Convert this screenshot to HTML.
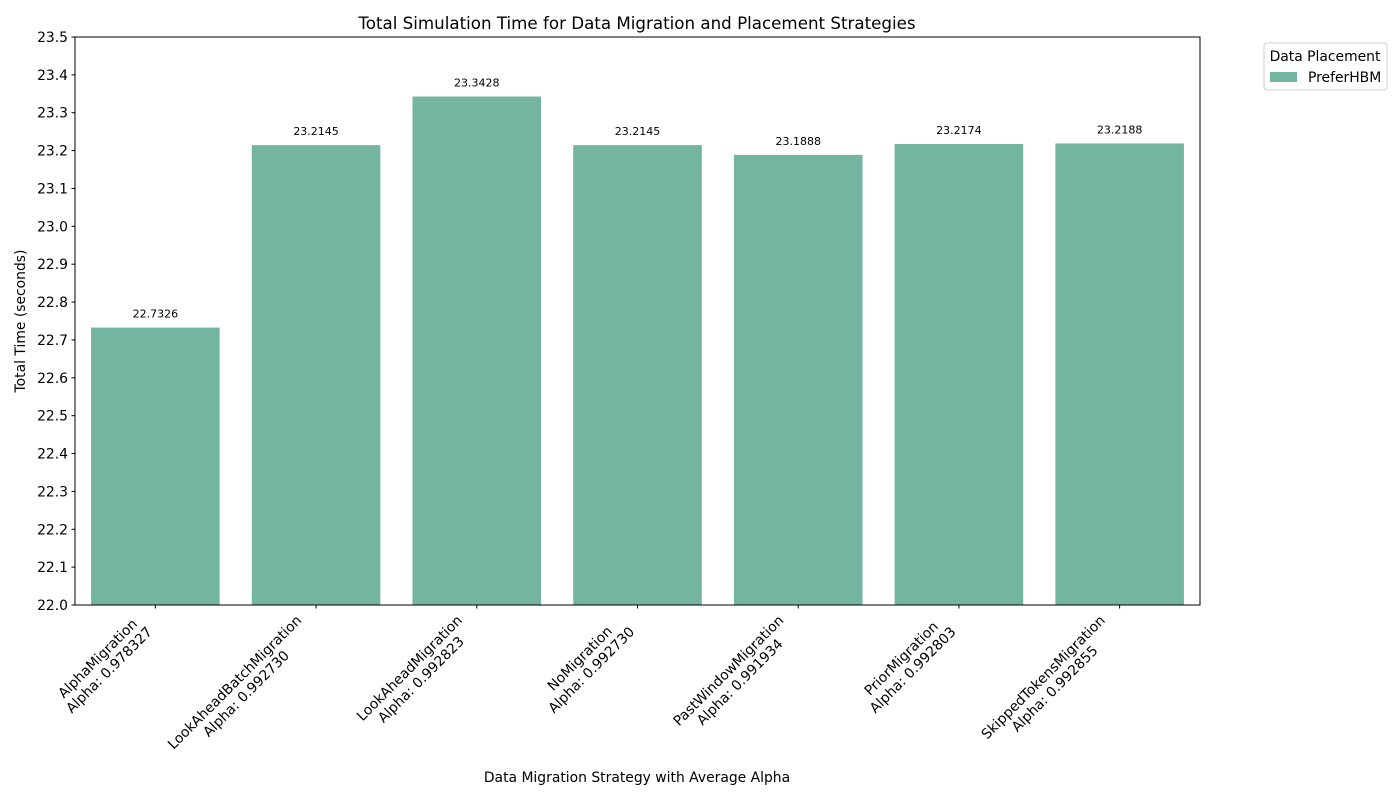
<!DOCTYPE html>
<html><head><meta charset="utf-8"><style>
body{margin:0;background:#fff;}
svg{font-family:"DejaVu Sans","Liberation Sans",sans-serif;}
</style></head><body>
<svg id="chart" width="1400" height="800" xmlns="http://www.w3.org/2000/svg">
<rect width="1400" height="800" fill="#fff"/>
<text x="637" y="29" font-size="16.7" text-anchor="middle">Total Simulation Time for Data Migration and Placement Strategies</text>
<g id="yaxis"></g>
<g id="bars"></g>
<g id="xaxis"></g>
<rect x="75" y="37" width="1125" height="568" fill="none" stroke="#000" stroke-width="1"/>
<text x="25" y="321" font-size="13.9" text-anchor="middle" transform="rotate(-90 25 321)">Total Time (seconds)</text>
<text x="637" y="782" font-size="13.9" text-anchor="middle">Data Migration Strategy with Average Alpha</text>
<g>
<rect x="1264" y="43" width="123" height="47" rx="3" fill="#fff" stroke="#ccc"/>
<text x="1325" y="61" font-size="13.9" text-anchor="middle">Data Placement</text>
<rect x="1270" y="72" width="27" height="10" fill="#73b5a1"/>
<text x="1308" y="82" font-size="13.9">PreferHBM</text>
</g>
</svg>
<script>
const categories=["AlphaMigration","LookAheadBatchMigration","LookAheadMigration","NoMigration","PastWindowMigration","PriorMigration","SkippedTokensMigration"];
const alphas=["0.978327","0.992730","0.992823","0.992730","0.991934","0.992803","0.992855"];
const values=[22.7326,23.2145,23.3428,23.2145,23.1888,23.2174,23.2188];
const yTicks=[22.0,22.1,22.2,22.3,22.4,22.5,22.6,22.7,22.8,22.9,23.0,23.1,23.2,23.3,23.4,23.5];
const NS="http://www.w3.org/2000/svg";
const L=75,R=1200,T=37,B=605,yMin=22.0,yMax=23.5;
const y=v=>B-(v-yMin)/(yMax-yMin)*(B-T);
const band=(R-L)/categories.length;
const xc=i=>L+band*(i+0.5);
function mk(tag,attrs,parent){const e=document.createElementNS(NS,tag);for(const k in attrs)e.setAttribute(k,attrs[k]);parent.appendChild(e);return e;}
const ya=document.getElementById('yaxis'),ba=document.getElementById('bars'),xa=document.getElementById('xaxis');
yTicks.forEach(t=>{
 const ln=mk('line',{x1:L-3.5,x2:L,y1:y(t),y2:y(t),stroke:'#000'},ya);
 
 
 const tx=mk('text',{x:L-7,y:y(t)+5,'font-size':13.9,'text-anchor':'end'},ya);
 tx.textContent=t.toFixed(1);
 
 
});
const bw=band*0.8;
values.forEach((v,i)=>{
 const r=mk('rect',{x:xc(i)-bw/2,y:y(v),width:bw,height:B-y(v),fill:'#73b5a1'},ba);
 
 
 const t=mk('text',{x:xc(i),y:y(v)-10,'font-size':11,'text-anchor':'middle'},ba);
 t.textContent=v.toFixed(4);
 
 
});
categories.forEach((c,i)=>{
 const tk=mk('line',{x1:xc(i),x2:xc(i),y1:B,y2:B+3.5,stroke:'#000'},xa);
 
 
 const g=mk('g',{},xa);
 
 
 const lh=16.2;
 const t1=mk('text',{'font-size':13.9,'text-anchor':'middle'},g);t1.textContent=c;
 const t2=mk('text',{'font-size':13.9,'text-anchor':'middle'},g);t2.textContent='Alpha: '+alphas[i];
 const W=Math.max(t1.getComputedTextLength(),t2.getComputedTextLength());
 const H=2*lh;
 t1.setAttribute('x',W/2);t1.setAttribute('y',lh*0.8);
 t2.setAttribute('x',W/2);t2.setAttribute('y',lh*1.8);
 const s=Math.SQRT1_2;
 const ox=xc(i)-s*(W+H), oy=B+7+s*W;
 g.setAttribute('transform','translate('+ox+','+oy+') rotate(-45)');
});
</script>
</body></html>
